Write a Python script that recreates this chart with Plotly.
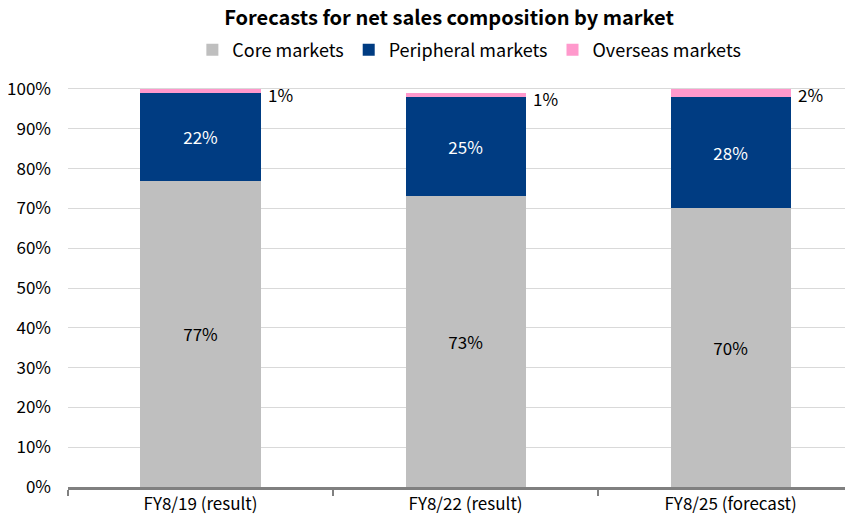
import plotly.graph_objects as go

categories = ["FY8/19 (result)", "FY8/22 (result)", "FY8/25 (forecast)"]
core = [77, 73, 70]
peripheral = [22, 25, 28]
overseas = [1, 1, 2]
y_ticks = [0, 10, 20, 30, 40, 50, 60, 70, 80, 90, 100]

FONT = "Noto Sans CJK JP"
W, H = 845, 515  # page body adds an 8px margin

fig = go.Figure()
fig.add_trace(go.Bar(
    x=categories, y=core, name="Core markets",
    marker=dict(color="#BFBFBF", line=dict(width=0)),
    text=[f"{v}%" for v in core], textposition="inside", insidetextanchor="middle",
    textfont=dict(color="#000000", size=17, family=FONT),
))
fig.add_trace(go.Bar(
    x=categories, y=peripheral, name="Peripheral markets",
    marker=dict(color="#003C82", line=dict(width=0)),
    text=[f"{v}%" for v in peripheral], textposition="inside", insidetextanchor="middle",
    textfont=dict(color="#FFFFFF", size=17, family=FONT),
))
fig.add_trace(go.Bar(
    x=categories, y=overseas, name="Overseas markets",
    marker=dict(color="#FF99CC", line=dict(width=0)),
    textposition="none",
))

# overseas labels sit to the right of each bar
for cat, c, p, o in zip(categories, core, peripheral, overseas):
    fig.add_annotation(
        x=cat, y=c + p + o, text=f"{o}%", showarrow=False,
        xanchor="left", yanchor="middle", xshift=65, yshift=-6,
        font=dict(size=17, family=FONT, color="#000000"),
    )

fig.update_layout(
    barmode="stack",
    bargap=0.547,
    width=W, height=H,
    margin=dict(l=60, r=0, t=79, b=36, autoexpand=False),
    paper_bgcolor="white", plot_bgcolor="white",
    font=dict(family=FONT, size=17, color="#000000"),
    title=dict(text="<b>Forecasts for net sales composition by market</b>",
               x=0.522, xanchor="center", yref="container", y=1 - 3 / H, yanchor="top",
               pad=dict(t=0, b=0), font=dict(size=20, family=FONT)),
    legend=dict(orientation="h", xref="container", x=0.546, xanchor="center",
                yref="container", y=1 - 42 / H, yanchor="middle",
                font=dict(size=18, family=FONT), traceorder="normal", itemwidth=30),
    showlegend=True,
)
fig.update_xaxes(
    range=[-0.5, 2.462], automargin=False,
    showline=True, linecolor="#808080", linewidth=3,
    ticks="outside", tickson="boundaries", ticklen=6, tickwidth=2, tickcolor="#808080",
    tickfont=dict(size=17, family=FONT),
)
fig.update_yaxes(
    range=[0, 100.5], tickvals=y_ticks, ticktext=[f"{v}%" for v in y_ticks],
    automargin=False,
    showgrid=True, gridcolor="#D9D9D9", gridwidth=1, zeroline=False,
    showline=False, ticks="", ticklabelstandoff=16,
    tickfont=dict(size=17, family=FONT),
)

fig.write_html("out.html")
